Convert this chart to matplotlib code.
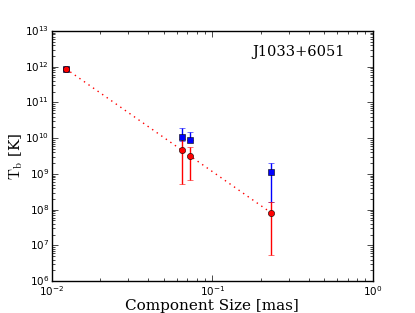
import matplotlib.pyplot as plt
import numpy as np

plt.style.use('classic')

# component sizes [mas] and brightness temperatures [K]
size = [0.0122, 0.0643, 0.0726, 0.233]

tb_blue = [8.8e11, 1.07e10, 9.1e9, 1.1e9]
tb_blue_lo = [0.9e11, 0.24e10, 0.4e9, 0.94e9]
tb_blue_hi = [0.9e11, 0.83e10, 0.59e10, 0.9e9]

tb_red = [8.8e11, 4.7e9, 3.2e9, 8.1e7]
tb_red_lo = [1.3e11, 4.19e9, 2.52e9, 7.57e7]
tb_red_hi = [1.3e11, 4.6e9, 2.5e9, 7.9e7]

source = 'J1033+6051'

fig = plt.figure(figsize=(4.15, 3.13), dpi=100, facecolor='white')
ax = fig.add_axes([0.125, 0.102, 0.773, 0.799])

ax.errorbar(size, tb_blue, yerr=[tb_blue_lo, tb_blue_hi], fmt='s', color='blue',
            mec='black', mew=0.4, ms=4.5, ecolor='blue', elinewidth=1, capsize=2.5)
ax.errorbar(size, tb_red, yerr=[tb_red_lo, tb_red_hi], fmt='o', color='red',
            mec='black', mew=0.4, ms=4.5, ecolor='red', elinewidth=1, capsize=2.5)

# power-law fit to the red points
p = np.polyfit(np.log10(size), np.log10(tb_red), 1)
xf = np.array([size[0], size[-1]])
ax.plot(xf, 10 ** np.polyval(p, np.log10(xf)), ':', color='red', lw=1)

ax.set_xscale('log')
ax.set_yscale('log')
ax.set_xlim(1e-2, 1)
ax.set_ylim(1e6, 1e13)
ax.tick_params(labelsize=7.5, pad=2)
ax.set_xlabel('Component Size [mas]', family='DejaVu Serif', fontsize=11, labelpad=1)
ax.set_ylabel(r'$\mathrm{T_b}$ [K]', family='DejaVu Serif', fontsize=11, labelpad=0)
ax.text(0.913, 0.915, source, transform=ax.transAxes, ha='right', va='center',
        family='DejaVu Serif', fontsize=10.5)

fig.savefig('out.png', dpi=100, facecolor='white')
